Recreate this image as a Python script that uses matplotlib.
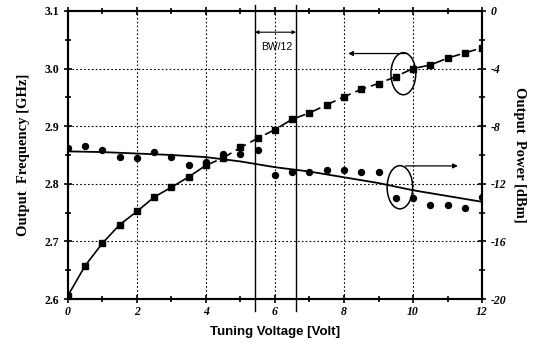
import numpy as np
import matplotlib.pyplot as plt
from matplotlib.patches import Ellipse

# tuning voltage steps (V)
volt = [0, 0.5, 1, 1.5, 2, 2.5, 3, 3.5, 4, 4.5, 5, 5.5, 6, 6.5, 7, 7.5, 8,
        8.5, 9, 9.5, 10, 10.5, 11, 11.5, 12]

# output frequency (GHz), squares
freq = [2.606, 2.658, 2.697, 2.729, 2.752, 2.777, 2.794, 2.812, 2.832, 2.845,
        2.863, 2.879, 2.894, 2.912, 2.923, 2.937, 2.951, 2.964, 2.974, 2.986,
        3.000, 3.006, 3.018, 3.027, 3.036]

# output power (dBm), circles
power = [-9.5, -9.35, -9.65, -10.15, -10.2, -9.8, -10.15, -10.7, -10.5, -9.9,
         -9.9, -9.65, -11.4, -11.2, -11.15, -11.05, -11.05, -11.15, -11.15,
         -13.0, -13.0, -13.5, -13.5, -13.7, -12.9]

# smooth fit of power
fit_volt = [0, 1, 2, 3, 4, 5, 6, 7, 8, 9, 10, 11, 12]
fit_power = [-9.75, -9.8, -9.9, -10.0, -10.15, -10.45, -10.85, -11.15, -11.55,
             -11.95, -12.45, -12.85, -13.25]

bw_edges = [5.42, 6.61]

serif = "Liberation Serif"
sans = "Liberation Sans"

fig = plt.figure(figsize=(5.35, 3.51), dpi=100)
ax = fig.add_axes([0.127, 0.148, 0.774, 0.821])
ax2 = ax.twinx()

ax.set_xlim(0, 12)
ax.set_ylim(2.6, 3.1)
ax2.set_ylim(-20, 0)

grid_style = dict(color="black", linestyle=(0, (1.5, 2)), linewidth=0.8)
for gx in [2, 4, 6, 8, 10]:
    ax.axvline(gx, **grid_style, zorder=1)
for gy in [2.7, 2.8, 2.9, 3.0]:
    ax.axhline(gy, **grid_style, zorder=1)

# frequency curve: solid at low voltage, dashed above
ax.plot(volt[:9], freq[:9], color="black", lw=1.2, zorder=3)
ax.plot(volt[8:], freq[8:], color="black", lw=1.2, dashes=(7, 3), zorder=3)
ax.plot(volt, freq, ls="none", marker="s", ms=5, color="black", zorder=4)

ax2.plot(fit_volt, fit_power, color="black", lw=1.3, zorder=3)
ax2.plot(volt, power, ls="none", marker="o", ms=4.3, color="black", zorder=4)

# bandwidth markers
for bx in bw_edges:
    ax.plot([bx, bx], [2.58, 3.11], color="black", lw=1.0, clip_on=False, zorder=2)
ax.annotate("", xy=(bw_edges[0], 3.063), xytext=(bw_edges[1], 3.063),
            arrowprops=dict(arrowstyle="<|-|>", color="black", lw=0.8,
                            mutation_scale=5, shrinkA=0, shrinkB=0))
ax.text(6.05, 3.037, "BW/12", family=sans, fontsize=7.5, ha="center", va="center")

# ellipses + arrows
ax.add_patch(Ellipse((9.72, 2.991), 0.72, 0.073, fill=False, lw=1.1, zorder=5))
ax.annotate("", xy=(8.12, 3.026), xytext=(9.82, 3.026),
            arrowprops=dict(arrowstyle="-|>", color="black", lw=0.9,
                            mutation_scale=7, shrinkA=0, shrinkB=0))
ax.add_patch(Ellipse((9.62, 2.794), 0.74, 0.075, fill=False, lw=1.1, zorder=5))
ax.annotate("", xy=(11.3, 2.831), xytext=(9.78, 2.831),
            arrowprops=dict(arrowstyle="-|>", color="black", lw=0.9,
                            mutation_scale=7, shrinkA=0, shrinkB=0))

# ticks
ax.set_xticks([0, 2, 4, 6, 8, 10, 12])
ax.set_xticks([1, 3, 5, 7, 9, 11], minor=True)
ax.set_yticks([2.6, 2.7, 2.8, 2.9, 3.0, 3.1])
ax.set_yticks([2.65, 2.75, 2.85, 2.95, 3.05], minor=True)
ax2.set_yticks([-20, -16, -12, -8, -4, 0])
ax2.set_yticks([-18, -14, -10, -6, -2], minor=True)

ax.tick_params(axis="both", which="both", direction="inout", width=1.2,
               top=True)
ax.tick_params(which="major", length=6)
ax.tick_params(which="minor", length=5)
ax.tick_params(axis="x", pad=2)
ax2.tick_params(axis="y", which="both", direction="inout", width=1.2)
ax2.tick_params(which="major", length=6)
ax2.tick_params(which="minor", length=5)

ax.set_xticklabels(["0", "2", "4", "6", "8", "10", "12"], family=serif,
                   fontweight="bold", style="italic", fontsize=8.5)
ax.set_yticklabels(["2.6", "2.7", "2.8", "2.9", "3.0", "3.1"], family=serif,
                   fontweight="bold", fontsize=8.5)
ax2.set_yticklabels(["-20", "-16", "-12", "-8", "-4", "0"], family=serif,
                    fontweight="bold", style="italic", fontsize=8.5)

for a in (ax, ax2):
    for s in a.spines.values():
        s.set_linewidth(1.5)

ax.set_xlabel("Tuning Voltage [Volt]", family=sans, fontweight="bold",
              fontsize=9.5, labelpad=6)
ax.set_ylabel("Output  Frequency [GHz]", family=serif, fontweight="bold",
              fontsize=10.5, labelpad=10)
ax2.set_ylabel("Output  Power [dBm]", family=serif, fontweight="bold",
               fontsize=10.5, rotation=-90, labelpad=14)

fig.savefig("out.png", dpi=100)
